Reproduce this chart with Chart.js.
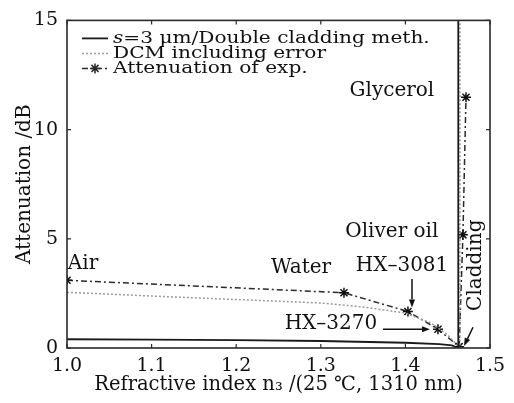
<!DOCTYPE html>
<html><head><meta charset="utf-8">
<script src="https://cdn.jsdelivr.net/npm/chart.js@4.4.1/dist/chart.umd.min.js"></script>
<style>html,body{margin:0;padding:0;background:#fff;}#wrap{width:514px;height:403px;}</style>
</head><body><div id="wrap"><canvas id="c" width="514" height="403"></canvas></div>
<script>
// ---- data ----
const xTickValues = [1.0, 1.1, 1.2, 1.3, 1.4, 1.5];
const yTickValues = [0, 5, 10, 15];

const simLabel = 's=3 μm/Double cladding meth.';
const simX = [1.0, 1.1, 1.2, 1.3, 1.4, 1.44, 1.455, 1.4625, 1.4625];
const simY = [0.40, 0.38, 0.36, 0.32, 0.24, 0.18, 0.12, 0.0, 15];

const errLabel = 'DCM including error';
const errX = [1.0, 1.1, 1.2, 1.3, 1.35, 1.4, 1.43, 1.45, 1.4645, 1.4645];
const errY = [2.55, 2.38, 2.22, 2.06, 1.88, 1.6, 1.15, 0.6, 0.0, 15];

const expLabel = 'Attenuation of exp.';
const expX = [1.0, 1.3274, 1.403, 1.4385, 1.4635, 1.468, 1.4716];
const expY = [3.1, 2.53, 1.67, 0.86, 0.06, 5.18, 11.48];

const noteTexts = ['Air', 'Water', 'HX–3081', 'HX–3270', 'Oliver oil', 'Glycerol', 'Cladding'];
const noteX = [1.019, 1.2766, 1.396, 1.312, 1.384, 1.384, 1.4835];
const noteY = [3.84, 3.66, 3.75, 1.13, 5.31, 11.77, 3.79];
const noteRot = [0, 0, 0, 0, 0, 0, -90];

const arrowFromX = [1.4078, 1.3735, 1.4799];
const arrowFromY = [3.16, 0.86, 0.95];
const arrowToX = [1.4078, 1.429, 1.4693];
const arrowToY = [1.85, 0.86, 0.09];

const FONT = "'DejaVu Serif', serif";
const pts = (xs, ys) => xs.map((x, i) => ({x: x, y: ys[i]}));

const framePlugin = {
  id: 'frame',
  afterDatasetsDraw(chart) {
    const {ctx, chartArea: a, scales} = chart;
    const xs = scales.x, ys = scales.y;
    ctx.save();
    ctx.strokeStyle = '#2a2a2a';
    ctx.lineWidth = 1.6;
    ctx.strokeRect(a.left, a.top, a.right - a.left, a.bottom - a.top);
    ctx.lineWidth = 1.2;
    const tl = 4;
    xTickValues.forEach(v => {
      const p = xs.getPixelForValue(v);
      ctx.beginPath();
      ctx.moveTo(p, a.bottom); ctx.lineTo(p, a.bottom - tl);
      ctx.moveTo(p, a.top); ctx.lineTo(p, a.top + tl);
      ctx.stroke();
    });
    yTickValues.forEach(v => {
      const p = ys.getPixelForValue(v);
      ctx.beginPath();
      ctx.moveTo(a.left, p); ctx.lineTo(a.left + tl, p);
      ctx.moveTo(a.right, p); ctx.lineTo(a.right - tl, p);
      ctx.stroke();
    });
    // annotations
    ctx.fillStyle = '#111';
    ctx.font = "20px " + FONT;
    ctx.textAlign = 'center';
    ctx.textBaseline = 'middle';
    noteTexts.forEach((t, i) => {
      const px = xs.getPixelForValue(noteX[i]);
      const py = ys.getPixelForValue(noteY[i]);
      ctx.save();
      ctx.translate(px, py);
      ctx.rotate(noteRot[i] * Math.PI / 180);
      ctx.fillText(t, 0, 0);
      ctx.restore();
    });
    // arrows
    ctx.strokeStyle = '#111';
    ctx.lineWidth = 1.5;
    arrowFromX.forEach((fx, i) => {
      const x1 = xs.getPixelForValue(fx), y1 = ys.getPixelForValue(arrowFromY[i]);
      const x2 = xs.getPixelForValue(arrowToX[i]), y2 = ys.getPixelForValue(arrowToY[i]);
      const ang = Math.atan2(y2 - y1, x2 - x1);
      const hl = 8, hw = 3;
      ctx.beginPath();
      ctx.moveTo(x1, y1);
      ctx.lineTo(x2 - hl * Math.cos(ang), y2 - hl * Math.sin(ang));
      ctx.stroke();
      ctx.beginPath();
      ctx.moveTo(x2, y2);
      ctx.lineTo(x2 - hl * Math.cos(ang) + hw * Math.sin(ang), y2 - hl * Math.sin(ang) - hw * Math.cos(ang));
      ctx.lineTo(x2 - hl * Math.cos(ang) - hw * Math.sin(ang), y2 - hl * Math.sin(ang) + hw * Math.cos(ang));
      ctx.closePath();
      ctx.fill();
    });
    // legend
    const ds = chart.data.datasets;
    ds.forEach((d, i) => {
      const y = a.top + 18 + i * 15;
      const lx1 = a.left + 15, lx2 = a.left + 41;
      ctx.save();
      ctx.strokeStyle = d.borderColor;
      ctx.lineWidth = d.borderWidth;
      ctx.setLineDash(d.borderDash || []);
      ctx.beginPath(); ctx.moveTo(lx1, y); ctx.lineTo(lx2, y); ctx.stroke();
      ctx.setLineDash([]);
      if (d.pointRadius > 0) {
        Chart.helpers.drawPoint(ctx, {pointStyle: d.pointStyle, radius: d.pointRadius, borderWidth: d.pointBorderWidth, rotation: 0}, (lx1 + lx2) / 2, y);
      }
      ctx.restore();
      ctx.save();
      ctx.translate(a.left + 46, y);
      ctx.scale(1.15, 1);
      ctx.fillStyle = '#111';
      ctx.textAlign = 'left';
      ctx.textBaseline = 'middle';
      let tx = 0;
      let label = d.label;
      if (label.startsWith('s=')) {
        ctx.font = "italic 17.5px " + FONT;
        ctx.fillText('s', tx, 0);
        tx += ctx.measureText('s').width;
        label = label.slice(1);
      }
      ctx.font = "17.5px " + FONT;
      ctx.fillText(label, tx, 0);
      ctx.restore();
    });
    ctx.restore();
  }
};

new Chart(document.getElementById('c'), {
  type: 'line',
  data: {
    datasets: [
      {label: simLabel, data: pts(simX, simY), borderColor: '#1a1a1a', borderWidth: 1.8, pointRadius: 0, tension: 0, fill: false},
      {label: errLabel, data: pts(errX, errY), borderColor: '#9a9a9a', borderWidth: 1.5, borderDash: [2, 2], pointRadius: 0, tension: 0, fill: false},
      {label: expLabel, data: pts(expX, expY), borderColor: '#2a2a2a', borderWidth: 1.5, borderDash: [6, 3, 2, 3], pointStyle: 'star', pointRadius: 5, pointBorderWidth: 1.5, pointBorderColor: '#111', pointBackgroundColor: '#111', tension: 0, fill: false}
    ]
  },
  options: {
    responsive: false,
    animation: false,
    devicePixelRatio: 1,
    layout: {padding: {top: 16, right: 24, left: 0, bottom: 0}},
    plugins: {legend: {display: false}, tooltip: {enabled: false}},
    scales: {
      x: {
        type: 'linear', min: 1.0, max: 1.5,
        afterFit: s => { s.height = 55; },
        afterBuildTicks: s => { s.ticks = xTickValues.map(v => ({value: v})); },
        grid: {display: false, drawTicks: false},
        border: {display: false},
        ticks: {color: '#111', padding: 7, font: {family: FONT, size: 19}, maxRotation: 0, callback: v => Number(v).toFixed(1)},
        title: {display: true, text: 'Refractive index n₃ /(25 ℃, 1310 nm)', color: '#111', font: {family: FONT, size: 19.5}, padding: {top: 0, bottom: 6}}
      },
      y: {
        type: 'linear', min: 0, max: 15,
        afterFit: s => { s.width = 67; },
        afterBuildTicks: s => { s.ticks = yTickValues.map(v => ({value: v})); },
        grid: {display: false, drawTicks: false},
        border: {display: false},
        ticks: {color: '#111', padding: 9, font: {family: FONT, size: 19}, callback: v => String(v)},
        title: {display: true, text: 'Attenuation /dB', color: '#111', font: {family: FONT, size: 20}, padding: {top: 13, bottom: 0}}
      }
    }
  },
  plugins: [framePlugin]
});
</script></body></html>
